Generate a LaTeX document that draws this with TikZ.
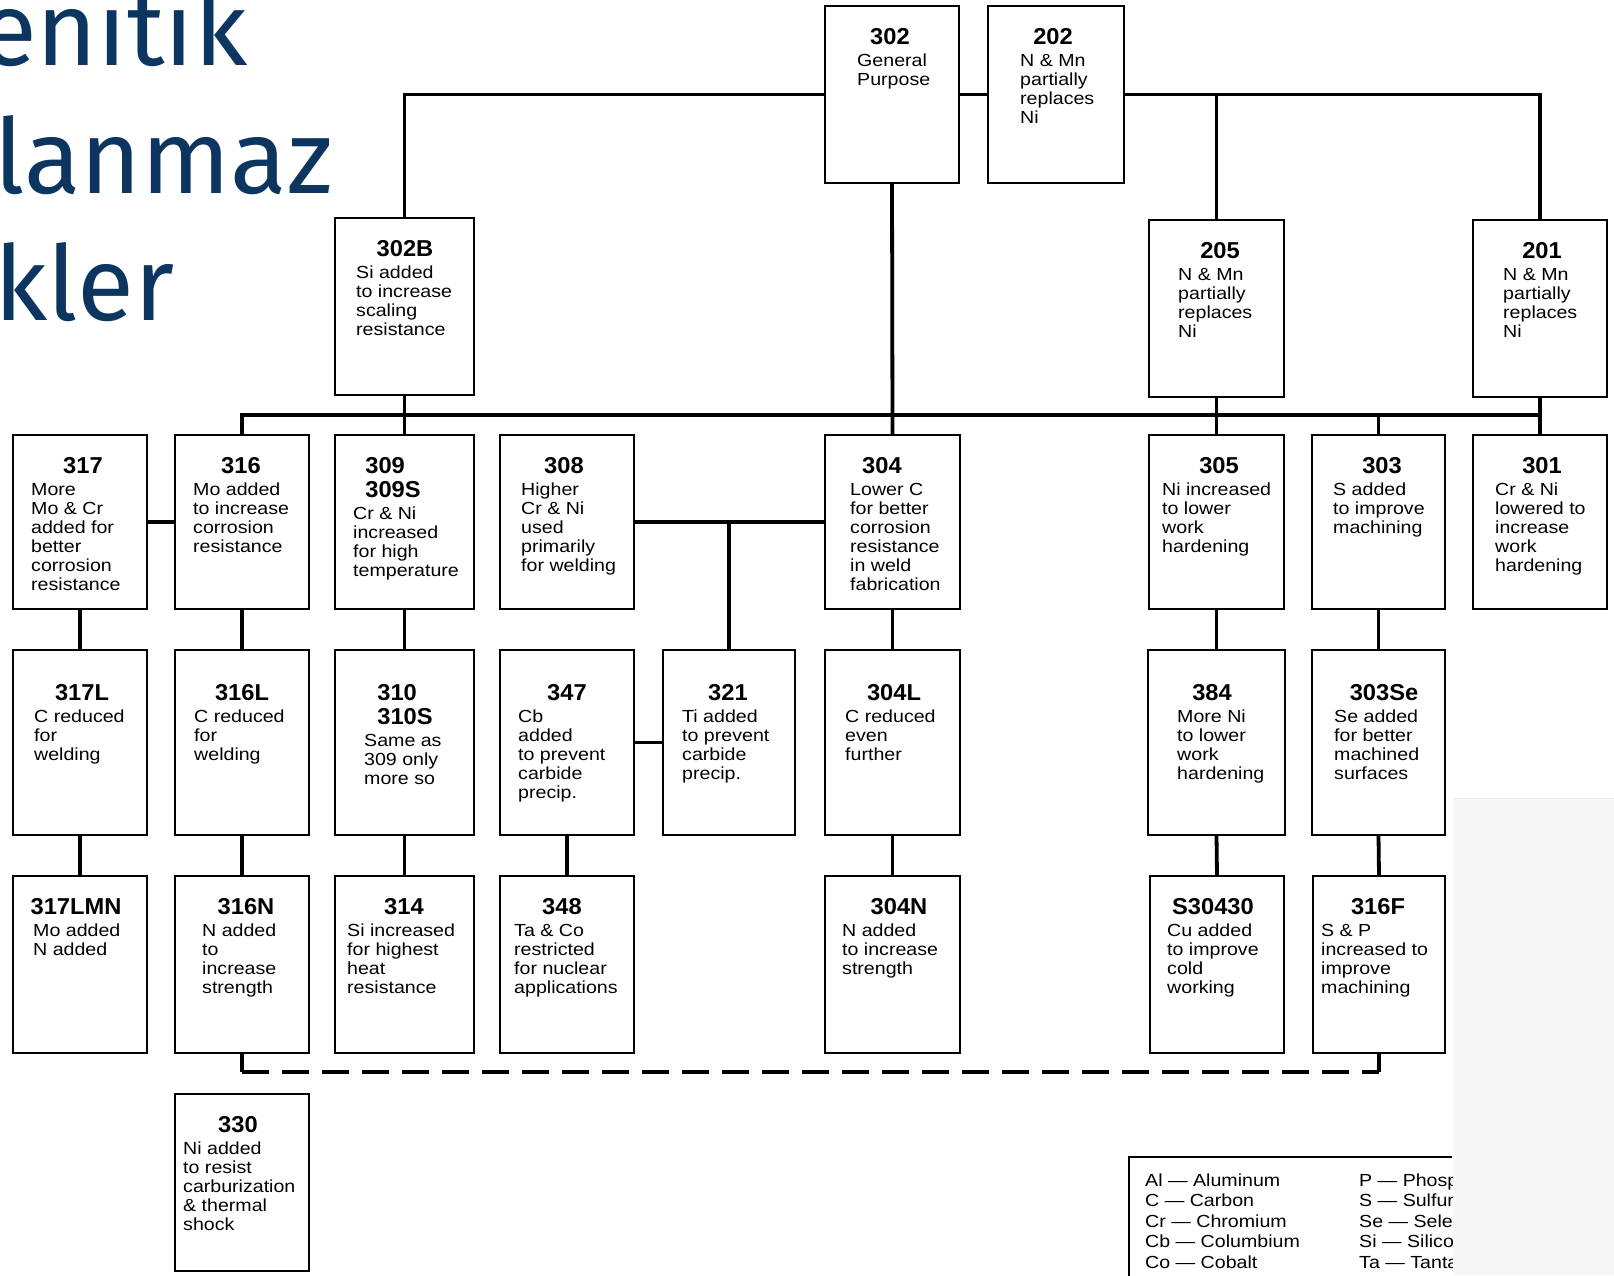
\documentclass[tikz,border=0pt]{standalone}
\usepackage{fontspec}
\newfontfamily\dscfam[FakeStretch=1.12]{Liberation Sans}
\newfontfamily\ttlfam[FakeStretch=1.03]{Liberation Sans}
\newfontfamily\headfam{Fira Sans}
\definecolor{ttlblue}{RGB}{12,53,96}
\tikzset{
  boxst/.style={draw, rectangle, line width=2.6pt, inner sep=0pt, outer sep=0pt},
  conn/.style={line width=3.8pt},
  dconn/.style={line width=3.8pt, dash pattern=on 27pt off 13pt},
  ttl/.style={anchor=base, inner sep=0pt, font=\ttlfam\bfseries\fontsize{23}{24}\selectfont},
  dsc/.style={anchor=base west, inner sep=0pt, font=\dscfam\fontsize{17.5}{19}\selectfont},
  head/.style={anchor=base west, inner sep=0pt, text=ttlblue, font=\headfam\fontsize{104}{120}\selectfont},
  legtxt/.style={anchor=base west, inner sep=0pt, font=\dscfam\fontsize{17.5}{20.5}\selectfont}
}
\newcommand{\mkbox}[8]{%
  \node[boxst, minimum width={(#3-#2)*1pt}, minimum height={(\myrbot-\myrtop)*1pt}] (#1) at ({(#2+#3)/2},{(\myrtop+\myrbot)/2}) {};
  \pgfmathsetmacro{\mytbase}{\myrtop+\mytoff}%
  \pgfmathsetmacro{\mydbase}{\mytbase+24*(#5-1)+22}%
  \node[ttl] (#1-t) at (#4,\mytbase) {\begin{tabular}[t]{@{}l@{}}#6\end{tabular}};
  \node[dsc] (#1-d) at (#7,\mydbase) {\begin{tabular}[t]{@{}l@{}}#8\end{tabular}};
}
\begin{document}
\begin{tikzpicture}[x=1pt,y=-1pt]
\useasboundingbox (0,0) rectangle (1614,1275);
\clip (0,0) rectangle (1614,1275);
\fill[white] (0,0) rectangle (1614,1275);
\fill[black!3] (1453,798) rectangle (1614,1275);
\draw[black!8, line width=1pt] (1453,798) -- (1614,798);

% heading fragments
\node[head] (h1) at (-20,65) {enitik};
\node[head] (h2) at (-6,193) {lanmaz};
\node[head] (h3) at (-6,320) {kler};

% top row
\def\myrtop{6}\def\myrbot{183}\def\mytoff{38}
\mkbox{b302}{825}{959}{890}{1}{302}{857}{General\\Purpose}
\mkbox{b202}{988}{1124}{1053}{1}{202}{1020}{N \& Mn\\partially\\replaces\\Ni}

\def\myrtop{218}\def\myrbot{395}
\mkbox{b302B}{335}{474}{405}{1}{302B}{356}{Si added\\to increase\\scaling\\resistance}
\def\myrtop{220}\def\myrbot{397}
\mkbox{b205}{1149}{1284}{1220}{1}{205}{1178}{N \& Mn\\partially\\replaces\\Ni}
\mkbox{b201}{1473}{1607}{1542}{1}{201}{1503}{N \& Mn\\partially\\replaces\\Ni}

% row 2
\def\myrtop{435}\def\myrbot{609}\def\mytoff{38}
\mkbox{b317}{13}{147}{83}{1}{317}{31}{More\\Mo \& Cr\\added for\\better\\corrosion\\resistance}
\mkbox{b316}{175}{309}{241}{1}{316}{193}{Mo added\\to increase\\corrosion\\resistance}
\mkbox{b309}{335}{474}{393}{2}{309\\309S}{353}{Cr \& Ni\\increased\\for high\\temperature}
\mkbox{b308}{500}{634}{564}{1}{308}{521}{Higher\\Cr \& Ni\\used\\primarily\\for welding}
\mkbox{b304}{825}{960}{882}{1}{304}{850}{Lower C\\for better\\corrosion\\resistance\\in weld\\fabrication}
\mkbox{b305}{1149}{1284}{1219}{1}{305}{1162}{Ni increased\\to lower\\work\\hardening}
\mkbox{b303}{1312}{1445}{1382}{1}{303}{1333}{S added\\to improve\\machining}
\mkbox{b301}{1473}{1607}{1542}{1}{301}{1495}{Cr \& Ni\\lowered to\\increase\\work\\hardening}

% row 3
\def\myrtop{650}\def\myrbot{835}\def\mytoff{50}
\mkbox{b317L}{13}{147}{82}{1}{317L}{34}{C reduced\\for\\welding}
\mkbox{b316L}{175}{309}{242}{1}{316L}{194}{C reduced\\for\\welding}
\mkbox{b310}{335}{474}{405}{2}{310\\310S}{364}{Same as\\309 only\\more so}
\mkbox{b347}{500}{634}{567}{1}{347}{518}{Cb\\added\\to prevent\\carbide\\precip.}
\mkbox{b321}{663}{795}{728}{1}{321}{682}{Ti added\\to prevent\\carbide\\precip.}
\mkbox{b304L}{825}{960}{894}{1}{304L}{845}{C reduced\\even\\further}
\mkbox{b384}{1148}{1285}{1212}{1}{384}{1177}{More Ni\\to lower\\work\\hardening}
\mkbox{b303Se}{1312}{1445}{1384}{1}{303Se}{1334}{Se added\\for better\\machined\\surfaces}

% row 4
\def\myrtop{876}\def\myrbot{1053}\def\mytoff{38}
\mkbox{b317LMN}{13}{147}{76}{1}{317LMN}{33}{Mo added\\N added}
\mkbox{b316N}{175}{309}{246}{1}{316N}{202}{N added\\to\\increase\\strength}
\mkbox{b314}{335}{474}{404}{1}{314}{347}{Si increased\\for highest\\heat\\resistance}
\mkbox{b348}{500}{634}{562}{1}{348}{514}{Ta \& Co\\restricted\\for nuclear\\applications}
\mkbox{b304N}{825}{960}{899}{1}{304N}{842}{N added\\to increase\\strength}
\mkbox{bS30430}{1150}{1284}{1213}{1}{S30430}{1167}{Cu added\\to improve\\cold\\working}
\mkbox{b316F}{1313}{1445}{1378}{1}{316F}{1321}{S \& P\\increased to\\improve\\machining}

% row 5
\def\myrtop{1094}\def\myrbot{1271}\def\mytoff{38}
\mkbox{b330}{175}{309}{238}{1}{330}{183}{Ni added\\to resist\\carburization\\\& thermal\\shock}

% connectors
\coordinate (bus) at (0,415);
\coordinate (dline) at (0,1072);
\draw[conn] (b302.west) -| (b302B.north);
\draw[conn] (b302.east) -- (b202.west);
\draw[conn] (b202.east) -| (b201.north);
\draw[conn] (b205.north) -- (b205.north |- b202.east);
\draw[conn] (b302.south) -- (b304.north);
\draw[conn] (b316.north) -- (b316.north |- bus) -- (b301.north |- bus);
\draw[conn] (b201.south) -- (b301.north);
\draw[conn] (b302B.south) -- (b309.north);
\draw[conn] (b205.south) -- (b305.north);
\draw[conn] (b303.north) -- (b303.north |- bus);
\draw[conn] (b317.east) -- (b316.west);
\draw[conn] (b308.east) -- (b304.west);
\draw[conn] (b321.north) -- (b321.north |- b304.west);
\draw[conn] (b347.east) -- (b321.west);
\draw[conn] (b317.south) -- (b317L.north);
\draw[conn] (b317L.south) -- (b317LMN.north);
\draw[conn] (b316.south) -- (b316L.north);
\draw[conn] (b316L.south) -- (b316N.north);
\draw[conn] (b309.south) -- (b310.north);
\draw[conn] (b310.south) -- (b314.north);
\draw[conn] (b347.south) -- (b348.north);
\draw[conn] (b304.south) -- (b304L.north);
\draw[conn] (b304L.south) -- (b304N.north);
\draw[conn] (b305.south) -- (b384.north);
\draw[conn] (b384.south) -- (bS30430.north);
\draw[conn] (b303.south) -- (b303Se.north);
\draw[conn] (b303Se.south) -- (b316F.north);
\draw[conn] (b316N.south) -- (b316N.south |- dline);
\draw[conn] (b316F.south) -- (b316F.south |- dline);
\draw[dconn] (b316N.south |- dline) -- (b316F.south |- dline);

% legend
\begin{scope}
\clip (1100,1140) rectangle (1452,1275);
\draw[line width=2.4pt] (1129,1157) rectangle (1700,1320);
\node[legtxt] (lg1) at (1145,1186) {\begin{tabular}[t]{@{}l@{}}Al — Aluminum\\C — Carbon\\Cr — Chromium\\Cb — Columbium\\Co — Cobalt\end{tabular}};
\node[legtxt] (lg2) at (1359,1186) {\begin{tabular}[t]{@{}l@{}}P — Phosphorus\\S — Sulfur\\Se — Selenium\\Si — Silicon\\Ta — Tantalum\end{tabular}};
\end{scope}
\end{tikzpicture}
\end{document}
